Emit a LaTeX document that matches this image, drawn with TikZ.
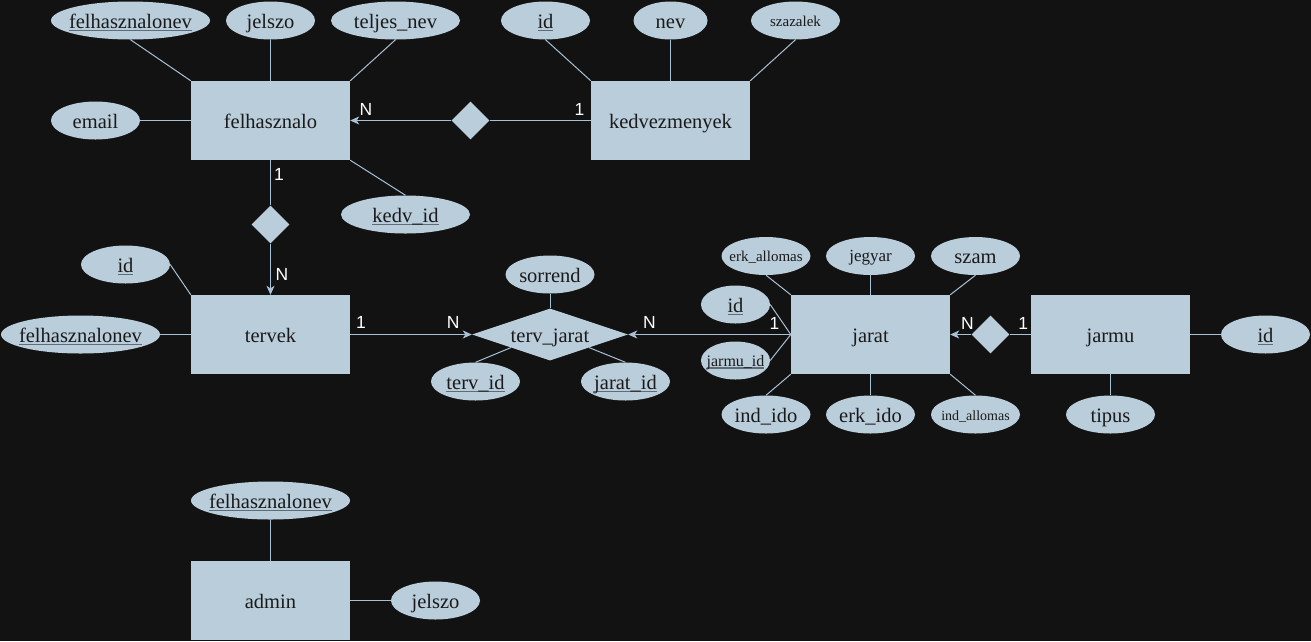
\documentclass[tikz,border=0pt]{standalone}
\usepackage{fontspec}
\setmainfont{Liberation Serif}
\newfontfamily\cardfont{Liberation Sans}
\usetikzlibrary{arrows.meta,calc,shapes.geometric}
\definecolor{canvas}{HTML}{121212}
\definecolor{box}{HTML}{BACDDB}
\definecolor{wire}{HTML}{A9C1D5}
\definecolor{ink}{HTML}{1A1A1A}
\definecolor{keyline}{HTML}{5F6B77}
\newcommand{\fsz}[1]{\fontsize{#1}{#1}\selectfont}
\newcommand{\pkey}[1]{\setbox0\hbox{#1}\rlap{\color{keyline}\rule[-2.6pt]{\wd0}{1.3pt}}\box0}
\tikzset{
  ent/.style={rectangle,fill=box,text=ink,minimum width=159pt,minimum height=79pt,inner sep=0pt,
    font=\fsz{20.5},text height=19pt,text depth=3.4pt},
  attr/.style={ellipse,fill=box,text=ink,minimum width=89pt,minimum height=38pt,inner sep=0pt,
    font=\fsz{20.5},text height=19pt,text depth=3.4pt,
    execute at begin node=\hbox to 0pt\bgroup\hss,execute at end node=\hss\egroup},
  small/.style={font=\fsz{#1},text height=14pt,text depth=3pt},
  rel/.style={diamond,fill=box,text=ink,minimum width=38pt,minimum height=38pt,inner sep=0pt,
    font=\fsz{20.5},text height=19pt,text depth=3.4pt,
    execute at begin node=\hbox to 0pt\bgroup\hss,execute at end node=\hss\egroup},
  link/.style={draw=wire,line width=1pt},
  flow/.style={link,-{Stealth[length=9pt,width=8pt,inset=2.5pt]}},
  card/.style={font=\cardfont\fsz{17.5},text=white,inner sep=0pt}
}

\begin{document}
\begin{tikzpicture}[x=1pt,y=-1pt]
\fill[canvas] (0,0) rectangle (1311,641);
\useasboundingbox (0,0) rectangle (1311,641);

\node[ent] (felh) at (270.5,120.5) {felhasznalo};
\node[ent] (kedv) at (670.5,120.5) {kedvezmenyek};
\node[ent] (tervek) at (270.5,334.5) {tervek};
\node[ent] (jarat) at (870.5,334.5) {jarat};
\node[ent] (jarmu) at (1110.5,334.5) {jarmu};
\node[ent] (admin) at (270.5,600.5) {admin};

\node[rel] (rfk) at (470.5,120.5) {};
\node[rel] (rft) at (270.5,224.5) {};
\node[rel] (rjj) at (990.5,334.5) {};
\node[rel,minimum width=156pt,minimum height=52pt] (tj) at (550,334.5) {terv\_jarat};

\node[attr,minimum width=159pt] (fnev) at (130.5,20.5) {\pkey{felhasznalonev}};
\node[attr] (fjelszo) at (270.5,20.5) {jelszo};
\node[attr,minimum width=129pt] (fteljes) at (395.5,20.5) {teljes\_nev};
\node[attr] (femail) at (95.5,120.5) {email};
\node[attr,minimum width=129pt] (fkedv) at (405.5,214.5) {\pkey{kedv\_id}};

\node[attr] (kid) at (545.5,20.5) {\pkey{id}};
\node[attr,minimum width=74pt] (knev) at (670.5,20.5) {nev};
\node[attr,small=15] (kszaz) at (795.5,20.5) {szazalek};

\node[attr] (tid) at (125.5,264.5) {\pkey{id}};
\node[attr,minimum width=159pt] (tfnev) at (80.5,334.5) {\pkey{felhasznalonev}};

\node[attr] (tjsor) at (550,274.5) {sorrend};
\node[attr] (tjterv) at (475.5,381.5) {\pkey{terv\_id}};
\node[attr] (tjjarat) at (625.5,381.5) {\pkey{jarat\_id}};

\node[attr,small=15] (jerk) at (766,256) {erk\_allomas};
\node[attr,small=17] (jjegy) at (870.5,256) {jegyar};
\node[attr] (jszam) at (975.5,256) {szam};
\node[attr,minimum width=69pt] (jid) at (735.5,304.5) {\pkey{id}};
\node[attr,minimum width=69pt,small=16] (jjarmu) at (735.5,360.5) {\pkey{jarmu\_id}};
\node[attr] (jindido) at (766,414.5) {ind\_ido};
\node[attr] (jerkido) at (870.5,414.5) {erk\_ido};
\node[attr,small=14] (jindall) at (975.5,414.5) {ind\_allomas};

\node[attr] (mid) at (1265.5,334.5) {\pkey{id}};
\node[attr] (mtipus) at (1110.5,414.5) {tipus};

\node[attr,minimum width=159pt] (anev) at (270.5,500.5) {\pkey{felhasznalonev}};
\node[attr] (ajelszo) at (435.5,600.5) {jelszo};

\draw[link] (fnev.south) -- (felh.north west);
\draw[link] (fjelszo.south) -- (felh.north);
\draw[link] (fteljes.south) -- (felh.north east);
\draw[link] (femail.east) -- (felh.west);
\draw[link] (fkedv.north) -- (felh.south east);
\draw[link] (kid.south) -- (kedv.north west);
\draw[link] (knev.south) -- (kedv.north);
\draw[link] (kszaz.south) -- (kedv.north east);
\draw[link] (kedv.west) -- (rfk.east);
\draw[flow] (rfk.west) -- (felh.east);
\draw[link] (felh.south) -- (rft.north);
\draw[flow] (rft.south) -- (tervek.north);
\draw[link] (tid.east) -- (tervek.north west);
\draw[link] (tfnev.east) -- (tervek.west);
\draw[flow] (tervek.east) -- (tj.west);
\draw[link] (tjsor.south) -- (tj.north);
\draw[link] (tjterv.north) -- ($(tj.west)!.5!(tj.south)$);
\draw[link] (tjjarat.north) -- ($(tj.east)!.5!(tj.south)$);
\draw[flow] (jarat.west) -- (tj.east);
\draw[link] (jerk.south) -- (jarat.north west);
\draw[link] (jjegy.south) -- (jarat.north);
\draw[link] (jszam.south) -- (jarat.north east);
\draw[link] (jid.east) -- (jarat.west);
\draw[link] (jjarmu.east) -- (jarat.west);
\draw[link] (jindido.north) -- (jarat.south west);
\draw[link] (jerkido.north) -- (jarat.south);
\draw[link] (jindall.north) -- (jarat.south east);
\draw[link] (jarmu.west) -- (rjj.east);
\draw[flow] (rjj.west) -- (jarat.east);
\draw[link] (jarmu.east) -- (mid.west);
\draw[link] (jarmu.south) -- (mtipus.north);
\draw[link] (anev.south) -- (admin.north);
\draw[link] (admin.east) -- (ajelszo.west);

\node[card] (cfkN) at (366,109.5) {N};
\node[card] (cfk1) at (579.5,109.5) {1};
\node[card] (cft1) at (279,174.5) {1};
\node[card] (cftN) at (282,274) {N};
\node[card] (ctt1) at (361,322.5) {1};
\node[card] (cttN) at (453.3,322.5) {N};
\node[card] (cjtN) at (649.5,322.5) {N};
\node[card] (cjt1) at (774.5,323) {1};
\node[card] (cjjN) at (967.5,323) {N};
\node[card] (cjj1) at (1023.3,323) {1};
\end{tikzpicture}
\end{document}
